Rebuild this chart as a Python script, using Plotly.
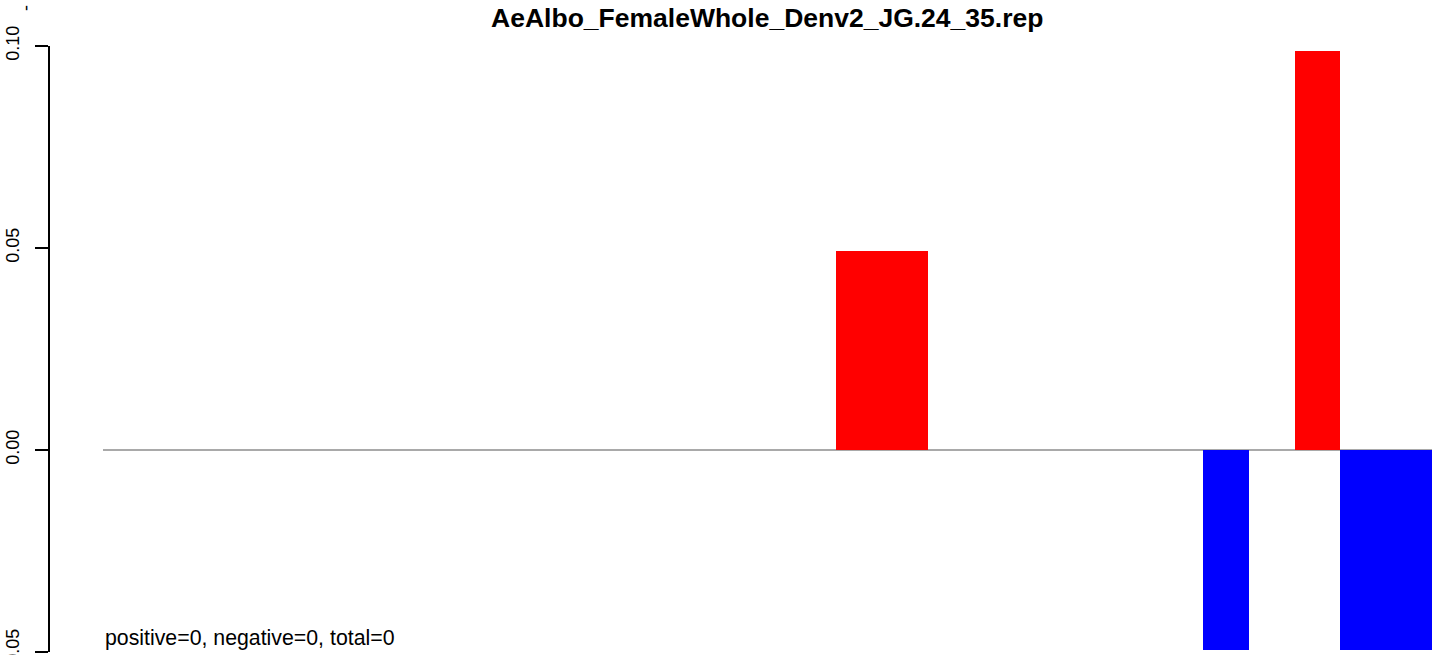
import plotly.graph_objects as go

# bar values (29 bins, most empty)
bins = list(range(29))
values = [0.0] * 29
values[16] = 0.0493
values[17] = 0.0493
values[24] = -0.0496
values[26] = 0.0987
values[27] = -0.0496
values[28] = -0.0496

tick_vals = [-0.05, 0.0, 0.05, 0.10]
tick_text = ['-0.05', '0.00', '0.05', '0.10']
title_text = 'AeAlbo_FemaleWhole_Denv2_JG.24_35.rep'
note_text = 'positive=0, negative=0, total=0'

colors = ['#FF0000' if v > 0 else '#0000FF' for v in values]

fig = go.Figure()
fig.add_trace(go.Bar(x=bins, y=values, marker=dict(color=colors, line=dict(width=0)),
                     width=1, showlegend=False, hoverinfo='x+y'))

# grey zero line across the bins
fig.add_shape(type='line', xref='x', yref='y', x0=bins[0] - 0.5, x1=bins[-1] + 0.5,
              y0=0, y1=0, line=dict(color='#8c8c8c', width=1.5), layer='below')

fig.add_annotation(text=note_text, xref='x', yref='y', x=bins[0] - 0.5, y=-0.0466,
                   xanchor='left', yanchor='middle', showarrow=False,
                   font=dict(size=21.3, color='black'))
# clipped fragment at the top-left corner
fig.add_annotation(text='-', xref='paper', yref='paper', x=-0.026, y=1.071,
                   textangle=-90, showarrow=False, font=dict(size=18, color='black'))

fig.update_layout(
    width=1444, height=655,
    margin=dict(l=50, r=12, t=46, b=3, autoexpand=False),
    plot_bgcolor='white', paper_bgcolor='white',
    font=dict(family='Liberation Sans, Arial, sans-serif', color='black'),
    title=dict(text='<b>' + title_text + '</b>', x=0.519, xref='paper', y=0.9725,
               yanchor='middle', xanchor='center', font=dict(size=26.5, color='black')),
    bargap=0,
)
fig.update_xaxes(range=[-1.656, 28.5], visible=False, showgrid=False, zeroline=False,
                 automargin=False)
fig.update_yaxes(range=[-0.05, 0.10], tickvals=tick_vals, ticktext=tick_text,
                 tickangle=-90, ticks='outside', ticklen=13, tickwidth=1.5, tickcolor='black',
                 ticklabelstandoff=9, ticklabeloverflow='allow', automargin=False,
                 showline=True, linecolor='black', linewidth=1.5,
                 showgrid=False, zeroline=False, tickfont=dict(size=18, color='black'))

# drop the default 8px body margin so the figure sits at the page corner
fig.write_html('out.html', config={'displayModeBar': False},
               post_script="document.body.style.margin='0';")
